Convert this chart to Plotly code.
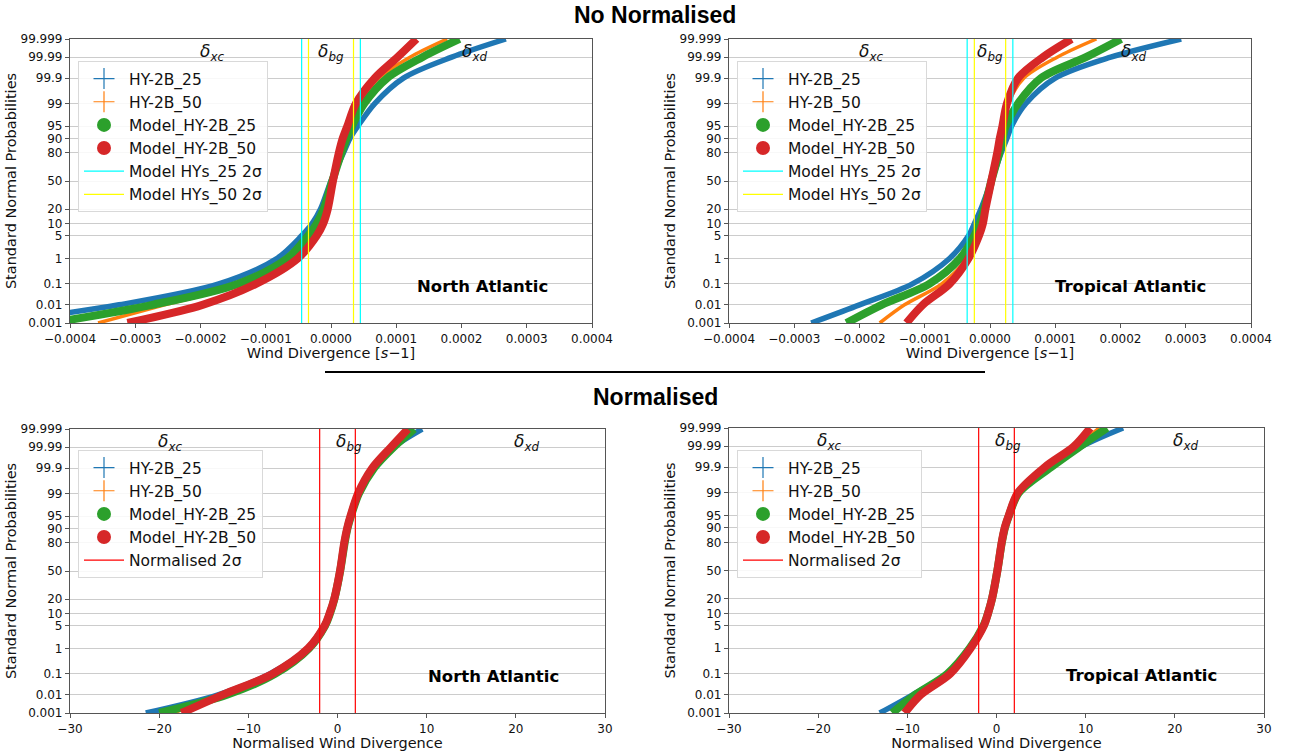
import plotly.graph_objects as go
from statistics import NormalDist

# ---------------- data ----------------
PROB_LEVELS = [0.001, 0.01, 0.1, 1, 5, 10, 20, 50, 80, 90, 95, 99, 99.9, 99.99, 99.999]
TICK_PROBS = [0.001, 0.01, 0.1, 1, 5, 10, 20, 50, 80, 90, 95, 99, 99.9, 99.99, 99.999]
TICK_TEXT = ["0.001", "0.01", "0.1", "1", "5", "10", "20", "50", "80", "90", "95",
             "99", "99.9", "99.99", "99.999"]

SERIES_NAMES = ["HY-2B_25", "HY-2B_50", "Model_HY-2B_25", "Model_HY-2B_50"]

# Not normalised, North Atlantic (s^-1)
na_hy25 = [-5.2e-4, -3.25e-4, -1.72e-4, -0.83e-4, -0.45e-4, -0.29e-4, -0.16e-4, 0.0, 0.19e-4, 0.29e-4, 0.41e-4, 0.67e-4, 1.11e-4, 1.85e-4, 2.68e-4]
na_hy50 = [-3.57e-4, -2.55e-4, -1.34e-4, -0.57e-4, -0.28e-4, -0.18e-4, -0.09e-4, 0.02e-4, 0.15e-4, 0.22e-4, 0.29e-4, 0.43e-4, 0.73e-4, 1.21e-4, 1.78e-4]
na_m25 = [-4.3e-4, -2.74e-4, -1.43e-4, -0.67e-4, -0.35e-4, -0.22e-4, -0.11e-4, 0.02e-4, 0.16e-4, 0.24e-4, 0.32e-4, 0.51e-4, 0.86e-4, 1.40e-4, 1.97e-4]
na_m50 = [-3.12e-4, -1.97e-4, -1.15e-4, -0.51e-4, -0.22e-4, -0.12e-4, -0.05e-4, 0.03e-4, 0.12e-4, 0.18e-4, 0.25e-4, 0.38e-4, 0.67e-4, 1.02e-4, 1.31e-4]
na_sigma25 = 0.45e-4
na_sigma50 = 0.345e-4

# Not normalised, Tropical Atlantic (s^-1)
ta_hy25 = [-2.74e-4, -2.0e-4, -1.19e-4, -0.62e-4, -0.33e-4, -0.24e-4, -0.14e-4, 0.02e-4, 0.17e-4, 0.26e-4, 0.33e-4, 0.55e-4, 1.0e-4, 1.85e-4, 2.93e-4]
ta_hy50 = [-1.69e-4, -1.31e-4, -0.74e-4, -0.36e-4, -0.21e-4, -0.14e-4, -0.08e-4, 0.02e-4, 0.12e-4, 0.17e-4, 0.21e-4, 0.28e-4, 0.52e-4, 1.03e-4, 1.63e-4]
ta_m25 = [-2.2e-4, -1.66e-4, -0.93e-4, -0.46e-4, -0.24e-4, -0.16e-4, -0.09e-4, 0.02e-4, 0.14e-4, 0.19e-4, 0.24e-4, 0.43e-4, 0.78e-4, 1.47e-4, 2.01e-4]
ta_m50 = [-1.28e-4, -1.03e-4, -0.62e-4, -0.33e-4, -0.17e-4, -0.11e-4, -0.07e-4, 0.02e-4, 0.11e-4, 0.15e-4, 0.19e-4, 0.26e-4, 0.43e-4, 0.81e-4, 1.25e-4]
ta_sigma25 = 0.35e-4
ta_sigma50 = 0.24e-4

# Normalised, North Atlantic
nna_hy25 = [-21.5, -13.4, -7.6, -3.4, -1.5, -0.9, -0.37, 0.28, 0.78, 1.12, 1.5, 2.4, 4.1, 6.3, 9.5]
nna_hy50 = [-18.4, -13.2, -7.4, -3.3, -1.45, -0.9, -0.37, 0.28, 0.75, 1.08, 1.45, 2.3, 3.9, 6.0, 8.3]
nna_m25 = [-20.0, -12.4, -7.0, -3.2, -1.4, -0.85, -0.35, 0.3, 0.8, 1.12, 1.5, 2.4, 4.1, 6.3, 8.6]
nna_m50 = [-17.5, -12.9, -7.3, -3.3, -1.45, -0.9, -0.37, 0.28, 0.75, 1.08, 1.45, 2.3, 3.9, 6.0, 7.9]

# Normalised, Tropical Atlantic
nta_hy25 = [-13.1, -9.4, -5.6, -3.0, -1.45, -0.95, -0.5, 0.1, 0.6, 0.95, 1.4, 2.5, 5.9, 9.6, 14.2]
nta_hy50 = [-11.5, -9.0, -5.4, -2.9, -1.4, -0.95, -0.5, 0.1, 0.58, 0.92, 1.37, 2.4, 5.6, 9.0, 11.5]
nta_m25 = [-11.7, -9.1, -5.5, -3.0, -1.45, -0.95, -0.5, 0.1, 0.6, 0.95, 1.4, 2.5, 6.1, 9.4, 12.4]
nta_m50 = [-10.3, -8.5, -5.2, -2.9, -1.4, -0.95, -0.5, 0.1, 0.58, 0.92, 1.37, 2.4, 5.4, 8.7, 10.5]
norm_sigma = 2.0

DELTA_X_RAW = [-1.82e-4, 0.0, 2.2e-4]
DELTA_X_NORM = [-18.8, 1.3, 21.2]
REGION_X_RAW = [2.32e-4, 2.16e-4]
REGION_X_NORM = [17.5, 16.3]

# ---------------- helpers ----------------
nd = NormalDist()


def zq(p):
    return nd.inv_cdf(p / 100.0)


Y_LEVELS = [zq(p) for p in PROB_LEVELS]
Y_TICKS = [zq(p) for p in TICK_PROBS]
Y_MIN, Y_MAX = zq(0.001), zq(99.999)

COLORS = ["#1f77b4", "#ff7f0e", "#2ca02c", "#d62728"]
WIDTHS = [5.5, 3.5, 8, 8]

fig = go.Figure()

panels = [
    dict(ax="", leg="legend", data=[na_hy25, na_hy50, na_m25, na_m50],
         sig=[("Model HYs_25 2σ", na_sigma25, "#00ffff"), ("Model HYs_50 2σ", na_sigma50, "#ffff00")]),
    dict(ax="2", leg="legend2", data=[ta_hy25, ta_hy50, ta_m25, ta_m50],
         sig=[("Model HYs_25 2σ", ta_sigma25, "#00ffff"), ("Model HYs_50 2σ", ta_sigma50, "#ffff00")]),
    dict(ax="3", leg="legend3", data=[nna_hy25, nna_hy50, nna_m25, nna_m50],
         sig=[("Normalised 2σ", norm_sigma, "#ff0000")]),
    dict(ax="4", leg="legend4", data=[nta_hy25, nta_hy50, nta_m25, nta_m50],
         sig=[("Normalised 2σ", norm_sigma, "#ff0000")]),
]

for k, pn in enumerate(panels):
    xa = "x" + pn["ax"]
    ya = "y" + pn["ax"]
    for i, vals in enumerate(pn["data"]):
        fig.add_trace(go.Scatter(
            x=vals, y=Y_LEVELS, mode="lines", xaxis=xa, yaxis=ya,
            line=dict(color=COLORS[i], width=WIDTHS[i], shape="spline", smoothing=0.9),
            showlegend=False, hoverinfo="skip"))
    for i, name in enumerate(SERIES_NAMES):
        if i < 2:
            mk = dict(symbol="cross-thin-open", size=15, color=COLORS[i],
                      line=dict(color=COLORS[i], width=1.2))
        else:
            mk = dict(symbol="circle", size=14, color=COLORS[i])
        fig.add_trace(go.Scatter(
            x=[None], y=[None], mode="markers", marker=mk, name=name,
            xaxis=xa, yaxis=ya, legend=pn["leg"], legendgroup=f"g{k}_{i}"))
    for j, (nm, s, col) in enumerate(pn["sig"]):
        fig.add_trace(go.Scatter(
            x=[-s, -s, None, s, s], y=[Y_MIN, Y_MAX, None, Y_MIN, Y_MAX],
            mode="lines", line=dict(color=col, width=1.2), name=nm,
            xaxis=xa, yaxis=ya, legend=pn["leg"], legendgroup=f"s{k}_{j}",
            hoverinfo="skip"))

W, H = 1296, 752
doms_x = [(70, 592), (729, 1251), (70, 605), (729, 1264)]
doms_y = [(39, 323), (39, 323), (429, 713), (428, 713)]
leg_pos = [(78, 61), (737, 61), (78, 450), (737, 450)]

AXIS_COLOR = "#555555"
TICK_FONT = dict(family="DejaVu Sans", size=12, color="#111111")
TITLE_FONT = dict(family="DejaVu Sans", size=14.5, color="#111111")

layout = dict(
    width=W, height=H,
    margin=dict(l=0, r=0, t=0, b=0, autoexpand=False),
    paper_bgcolor="white", plot_bgcolor="white",
    font=dict(family="DejaVu Sans", color="#111111"),
    showlegend=True,
)

for k in range(4):
    suf = "" if k == 0 else str(k + 1)
    x0, x1 = doms_x[k]
    t, b = doms_y[k]
    raw = k < 2
    xaxis = dict(
        domain=[x0 / W, x1 / W], anchor="y" + suf, automargin=False,
        range=[-0.0004, 0.0004] if raw else [-30, 30],
        dtick=0.0001 if raw else 10, tick0=0,
        tickformat=".4f" if raw else "d",
        showgrid=False, zeroline=False,
        showline=True, linecolor=AXIS_COLOR, linewidth=1.2, mirror=True,
        ticks="outside", ticklen=4, tickcolor=AXIS_COLOR,
        tickfont=TICK_FONT,
        title=dict(text="Wind Divergence [<i>s</i>−1]" if raw else "Normalised Wind Divergence",
                   font=TITLE_FONT, standoff=0),
    )
    yaxis = dict(
        domain=[1 - b / H, 1 - t / H], anchor="x" + suf, automargin=False,
        range=[Y_MIN, Y_MAX],
        tickmode="array", tickvals=Y_TICKS, ticktext=TICK_TEXT,
        showgrid=True, gridcolor="#cccccc", gridwidth=1,
        zeroline=False,
        showline=True, linecolor=AXIS_COLOR, linewidth=1.2, mirror=True,
        ticks="outside", ticklen=4, tickcolor=AXIS_COLOR,
        tickfont=TICK_FONT,
        title=dict(text="Standard Normal Probabilities", font=TITLE_FONT, standoff=0),
    )
    layout["xaxis" + suf] = xaxis
    layout["yaxis" + suf] = yaxis
    lx, ly = leg_pos[k]
    layout["legend" + suf] = dict(
        x=lx / W, y=1 - ly / H, xanchor="left", yanchor="top",
        bgcolor="rgba(255,255,255,0.85)", bordercolor="#d9d9d9", borderwidth=1,
        font=dict(family="DejaVu Sans", size=15.5, color="#111111"),
        traceorder="grouped", tracegroupgap=0, itemwidth=40,
    )

fig.update_layout(**layout)

annotations = []
delta_txt = ["<i>δ<sub>xc</sub></i>", "<i>δ<sub>bg</sub></i>", "<i>δ<sub>xd</sub></i>"]
for k in range(4):
    suf = "" if k == 0 else str(k + 1)
    dx = DELTA_X_RAW if k < 2 else DELTA_X_NORM
    for j in range(3):
        annotations.append(dict(
            x=dx[j], y=1.0, xref="x" + suf, yref=f"y{suf} domain",
            text=delta_txt[j], showarrow=False, yanchor="top", xanchor="center",
            font=dict(family="DejaVu Sans", size=17, color="#111111")))
    rx = REGION_X_RAW[k % 2] if k < 2 else REGION_X_NORM[k % 2]
    annotations.append(dict(
        x=rx, y=0.13, xref="x" + suf, yref=f"y{suf} domain",
        text="<b>" + ("North Atlantic" if k % 2 == 0 else "Tropical Atlantic") + "</b>",
        showarrow=False, xanchor="center", yanchor="middle",
        font=dict(family="DejaVu Sans", size=16.5, color="#000000")))

annotations.append(dict(x=655 / W, y=1 - 15 / H, xref="paper", yref="paper",
                        xanchor="center", yanchor="middle",
                        text="<b>No Normalised</b>", showarrow=False,
                        font=dict(family="Liberation Sans", size=23, color="#000000")))
annotations.append(dict(x=655 / W, y=1 - 397 / H, xref="paper", yref="paper",
                        xanchor="center", yanchor="middle",
                        text="<b>Normalised</b>", showarrow=False,
                        font=dict(family="Liberation Sans", size=23, color="#000000")))
fig.update_layout(annotations=annotations)

fig.add_shape(type="line", xref="paper", yref="paper",
              x0=325 / W, x1=985 / W, y0=1 - 372 / H, y1=1 - 372 / H,
              line=dict(color="black", width=2))

fig.write_html("out.html", config={"displayModeBar": False},
               post_script="document.body.style.margin='0';document.body.style.padding='0';")
